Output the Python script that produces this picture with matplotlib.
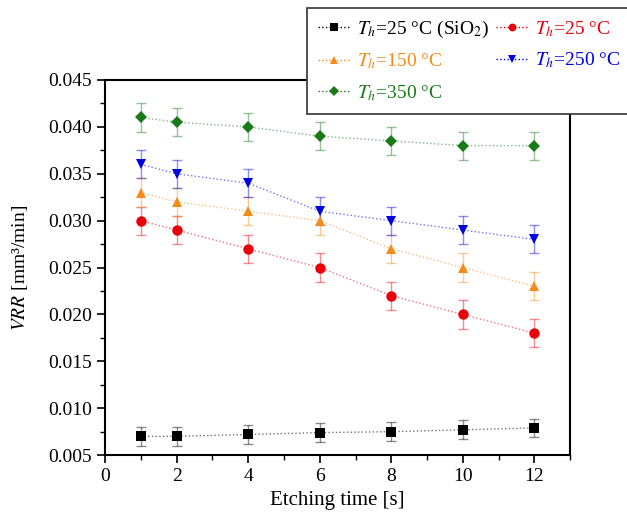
import matplotlib.pyplot as plt
from matplotlib.lines import Line2D

plt.rcParams['font.family'] = 'Liberation Serif'
plt.rcParams['mathtext.fontset'] = 'stix'

# ===== Data ===================================================================

times = [1, 2, 4, 6, 8, 10, 12]

vrrSiO2 = [0.0070, 0.0070, 0.0072, 0.0074, 0.0075, 0.0077, 0.0079]
vrr25 = [0.030, 0.029, 0.027, 0.025, 0.022, 0.020, 0.018]
vrr150 = [0.033, 0.032, 0.031, 0.030, 0.027, 0.025, 0.023]
vrr250 = [0.036, 0.035, 0.034, 0.031, 0.030, 0.029, 0.028]
vrr350 = [0.041, 0.0405, 0.040, 0.039, 0.0385, 0.038, 0.038]

errSiO2 = 0.001
errOthers = 0.0015

series = [
    (vrrSiO2, errSiO2, "s", "black", r"$T_h$=25 °C (SiO$_2$)"),
    (vrr25, errOthers, "o", "#e8000b", r"$T_h$=25 °C"),
    (vrr150, errOthers, "^", "#f28c1a", r"$T_h$=150 °C"),
    (vrr250, errOthers, "v", "#0000e0", r"$T_h$=250 °C"),
    (vrr350, errOthers, "D", "#1a7a1a", r"$T_h$=350 °C"),
]

# ===== Plot ===================================================================

fig = plt.figure(figsize=(6.27, 5.16), dpi=100)
ax = fig.add_axes([0.1675, 0.118, 0.742, 0.727])

handles = []
for values, err, marker, color, label in series:
    ms = 6.3 if marker == "D" else 7.5
    # error bars and connecting line are drawn lighter than the markers
    ax.errorbar(times, values, yerr=err, fmt="none", ecolor=color,
                elinewidth=1, capsize=3.5, capthick=1, alpha=0.45)
    ax.plot(times, values, linestyle=":", color=color, linewidth=1,
            alpha=0.55)
    ax.plot(times, values, linestyle="none", marker=marker, color=color,
            ms=ms, markeredgewidth=0, zorder=3)
    handles.append(Line2D([], [], color=color, marker=marker, ms=ms * 0.75,
                          markeredgewidth=0, linestyle=":", linewidth=1))

ax.set_xlim(0, 13)
ax.set_ylim(0.005, 0.045)
ax.set_xticks([0, 2, 4, 6, 8, 10, 12])
ax.set_xticks([1, 3, 5, 7, 9, 11, 13], minor=True)
ax.set_yticks([0.005, 0.010, 0.015, 0.020, 0.025, 0.030, 0.035, 0.040, 0.045])
ax.set_yticks([0.0075, 0.0125, 0.0175, 0.0225, 0.0275, 0.0325, 0.0375,
               0.0425], minor=True)
ax.set_yticklabels([f"{v:.3f}" for v in ax.get_yticks()])
ax.tick_params(labelsize=14, direction="out", length=6, width=1.2)
ax.tick_params(which="minor", direction="out", length=3.5, width=1)
for spine in ax.spines.values():
    spine.set_linewidth(1.5)

ax.set_xlabel("Etching time [s]", fontsize=15)
ax.set_ylabel(r"$VRR$ [mm³/min]", fontsize=14, labelpad=13)

# Legend is filled row by row: SiO2, 25 / 150, 250 / 350
order = [0, 2, 4, 1, 3]
labels = [s[4] for s in series]
leg = fig.legend([handles[i] for i in order], [labels[i] for i in order],
                 ncol=2, loc="upper left", bbox_to_anchor=(0.49, 0.984),
                 fontsize=14, frameon=True, fancybox=False, framealpha=1,
                 edgecolor="#333333", handlelength=1.7, columnspacing=0.35,
                 handletextpad=0.3, labelspacing=0.6, borderpad=0.55,
                 borderaxespad=0)
leg.get_frame().set_linewidth(1.2)
for text, i in zip(leg.get_texts(), order):
    text.set_color(series[i][3])

fig.savefig("out.png")
